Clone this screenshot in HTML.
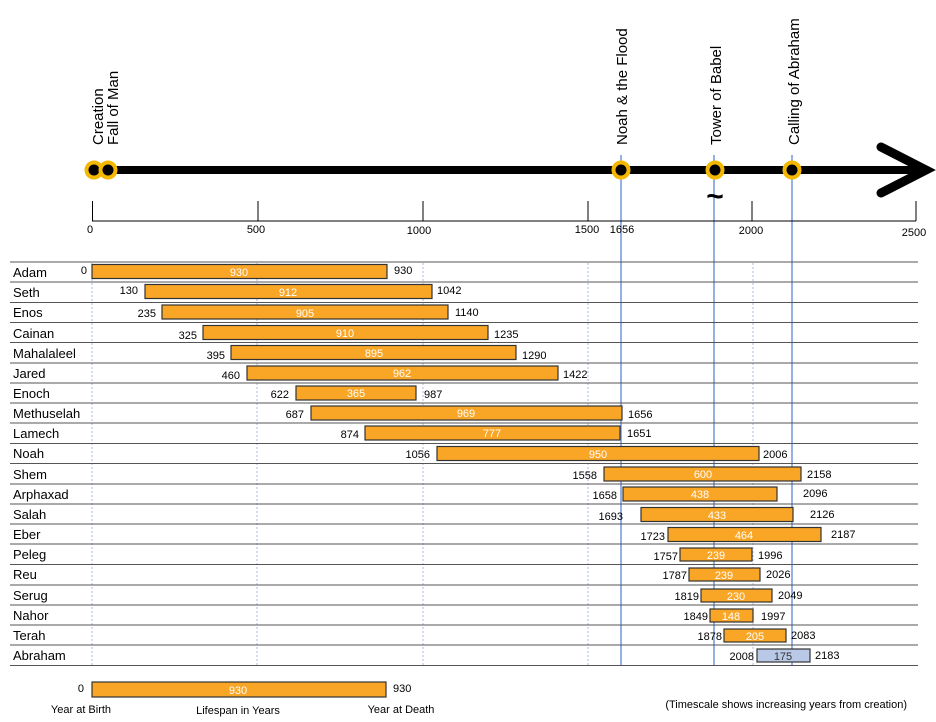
<!DOCTYPE html>
<html><head><meta charset="utf-8"><style>
html,body{margin:0;padding:0;background:#fff}
svg{display:block;font-family:"Liberation Sans",sans-serif}
</style></head><body>
<svg width="936" height="722" viewBox="0 0 936 722" xmlns="http://www.w3.org/2000/svg">
<g font-size="15" fill="#000">
<text transform="translate(103,145) rotate(-90)">Creation</text>
<text transform="translate(118,145) rotate(-90)">Fall of Man</text>
<text transform="translate(627,145) rotate(-90)">Noah &amp; the Flood</text>
<text transform="translate(721,145) rotate(-90)">Tower of Babel</text>
<text transform="translate(799,145) rotate(-90)">Calling of Abraham</text>
</g>
<g stroke="#5b86d6" stroke-width="1.3">
<line x1="621" y1="155" x2="621" y2="666"/>
<line x1="714" y1="155" x2="714" y2="666"/>
<line x1="792" y1="155" x2="792" y2="666"/>
</g>
<line x1="95" y1="170" x2="922" y2="170" stroke="#000" stroke-width="8"/>
<polyline points="881,147 926,170 881,193" fill="none" stroke="#000" stroke-width="9" stroke-linecap="round" stroke-linejoin="miter"/>
<g fill="#000" stroke="#f5b800" stroke-width="4">
<circle cx="94" cy="170" r="7.5"/>
<circle cx="108" cy="170" r="7.5"/>
<circle cx="621" cy="170" r="7.5"/>
<circle cx="715" cy="170" r="7.5"/>
<circle cx="792" cy="170" r="7.5"/>
</g>
<text x="715" y="206" font-size="30" font-weight="bold" text-anchor="middle">~</text>
<g stroke="#000" stroke-width="1">
<line x1="92" y1="221" x2="916" y2="221"/>
<line x1="92.5" y1="201" x2="92.5" y2="221"/>
<line x1="258" y1="201" x2="258" y2="221"/>
<line x1="423" y1="201" x2="423" y2="221"/>
<line x1="588" y1="201" x2="588" y2="221"/>
<line x1="752" y1="201" x2="752" y2="221"/>
<line x1="916" y1="201" x2="916" y2="221"/>
</g>
<g font-size="11" text-anchor="middle">
<text x="90" y="233">0</text>
<text x="256" y="233">500</text>
<text x="419" y="234">1000</text>
<text x="587" y="233">1500</text>
<text x="622" y="233">1656</text>
<text x="751" y="234">2000</text>
<text x="914" y="236">2500</text>
</g>
<g stroke="#aabbe0" stroke-width="1" stroke-dasharray="2,2">
<line x1="92" y1="263" x2="92" y2="666"/>
<line x1="257" y1="263" x2="257" y2="666"/>
<line x1="423" y1="263" x2="423" y2="666"/>
<line x1="588" y1="263" x2="588" y2="666"/>
<line x1="753" y1="263" x2="753" y2="666"/>
</g>
<g stroke="#555" stroke-width="1">
<line x1="10" y1="262" x2="918" y2="262"/><line x1="10" y1="282" x2="918" y2="282"/>
<line x1="10" y1="302.5" x2="918" y2="302.5"/><line x1="10" y1="322.5" x2="918" y2="322.5"/>
<line x1="10" y1="342.5" x2="918" y2="342.5"/><line x1="10" y1="363" x2="918" y2="363"/>
<line x1="10" y1="383" x2="918" y2="383"/><line x1="10" y1="403" x2="918" y2="403"/>
<line x1="10" y1="423" x2="918" y2="423"/><line x1="10" y1="443.5" x2="918" y2="443.5"/>
<line x1="10" y1="463.5" x2="918" y2="463.5"/><line x1="10" y1="484" x2="918" y2="484"/>
<line x1="10" y1="504" x2="918" y2="504"/><line x1="10" y1="524" x2="918" y2="524"/>
<line x1="10" y1="544" x2="918" y2="544"/><line x1="10" y1="564.5" x2="918" y2="564.5"/>
<line x1="10" y1="585" x2="918" y2="585"/><line x1="10" y1="605" x2="918" y2="605"/>
<line x1="10" y1="625" x2="918" y2="625"/><line x1="10" y1="645" x2="918" y2="645"/>
<line x1="10" y1="665.5" x2="918" y2="665.5"/>
</g>
<g font-size="13">
<text x="13" y="277">Adam</text><text x="13" y="297">Seth</text><text x="13" y="317">Enos</text>
<text x="13" y="338">Cainan</text><text x="13" y="358">Mahalaleel</text><text x="13" y="378">Jared</text>
<text x="13" y="398">Enoch</text><text x="13" y="418">Methuselah</text><text x="13" y="438">Lamech</text>
<text x="13" y="458">Noah</text><text x="13" y="479">Shem</text><text x="13" y="499">Arphaxad</text>
<text x="13" y="519">Salah</text><text x="13" y="539">Eber</text><text x="13" y="559">Peleg</text>
<text x="13" y="579">Reu</text><text x="13" y="600">Serug</text><text x="13" y="620">Nahor</text>
<text x="13" y="640">Terah</text><text x="13" y="660">Abraham</text>
</g>
<g fill="#f9a526" stroke="#333" stroke-width="1.2">
<rect x="92" y="264.5" width="295" height="14"/>
<rect x="145" y="284.5" width="287" height="14"/>
<rect x="162" y="305" width="286" height="14"/>
<rect x="203" y="325.5" width="285" height="14"/>
<rect x="231" y="345.5" width="285" height="14"/>
<rect x="247" y="366" width="311" height="14"/>
<rect x="296" y="386" width="120" height="14"/>
<rect x="311" y="406" width="311" height="14"/>
<rect x="365" y="426" width="255" height="14"/>
<rect x="437" y="446.5" width="322" height="14"/>
<rect x="604" y="467" width="197" height="14"/>
<rect x="623" y="487" width="154" height="14"/>
<rect x="641" y="507.5" width="152" height="14"/>
<rect x="668" y="527.5" width="153" height="14"/>
<rect x="680" y="548" width="72" height="13"/>
<rect x="689" y="568" width="71" height="13"/>
<rect x="701" y="589" width="71" height="13"/>
<rect x="710" y="609" width="43" height="13"/>
<rect x="724" y="629" width="62" height="13"/>
<rect x="757" y="649" width="53" height="13" fill="#b8c8e6"/>
<rect x="92" y="682" width="294" height="15"/>
</g>
<g font-size="11" fill="#fff" text-anchor="middle">
<text x="239" y="276">930</text><text x="288" y="296">912</text><text x="305" y="317">905</text>
<text x="345" y="337">910</text><text x="374" y="357">895</text><text x="402" y="377">962</text>
<text x="356" y="397">365</text><text x="466" y="417">969</text><text x="492" y="437">777</text>
<text x="598" y="458">950</text><text x="703" y="478">600</text><text x="700" y="498">438</text>
<text x="717" y="519">433</text><text x="744" y="539">464</text><text x="716" y="559">239</text>
<text x="724" y="579">239</text><text x="736" y="600">230</text><text x="731" y="620">148</text>
<text x="755" y="640">205</text><text x="783" y="660" fill="#333">175</text>
<text x="238" y="694">930</text>
</g>
<g font-size="11" text-anchor="end">
<text x="87" y="274">0</text><text x="138" y="294">130</text><text x="156" y="317">235</text>
<text x="197" y="339">325</text><text x="225" y="359">395</text><text x="240" y="379">460</text>
<text x="289" y="398">622</text><text x="304" y="418">687</text><text x="359" y="438">874</text>
<text x="430" y="458">1056</text><text x="597" y="479">1558</text><text x="617" y="499">1658</text>
<text x="623" y="520">1693</text><text x="665" y="540">1723</text><text x="678" y="560">1757</text>
<text x="687" y="579">1787</text><text x="699" y="600">1819</text><text x="708" y="620">1849</text>
<text x="722" y="640">1878</text><text x="754" y="660">2008</text><text x="84" y="692">0</text>
</g>
<g font-size="11">
<text x="394" y="274">930</text><text x="437" y="294">1042</text><text x="455" y="316">1140</text>
<text x="494" y="338">1235</text><text x="522" y="359">1290</text><text x="563" y="378">1422</text>
<text x="424" y="398">987</text><text x="628" y="418">1656</text><text x="627" y="437">1651</text>
<text x="763" y="458">2006</text><text x="807" y="478">2158</text><text x="803" y="497">2096</text>
<text x="810" y="518">2126</text><text x="831" y="538">2187</text><text x="758" y="559">1996</text>
<text x="766" y="578">2026</text><text x="778" y="599">2049</text><text x="761" y="620">1997</text>
<text x="791" y="639">2083</text><text x="815" y="659">2183</text><text x="393" y="692">930</text>
</g>
<g font-size="11" text-anchor="middle">
<text x="81" y="713">Year at Birth</text>
<text x="238" y="714">Lifespan in Years</text>
<text x="401" y="713">Year at Death</text>
</g>
<text x="907" y="708" font-size="11" text-anchor="end">(Timescale shows increasing years from creation)</text>
</svg>
</body></html>
